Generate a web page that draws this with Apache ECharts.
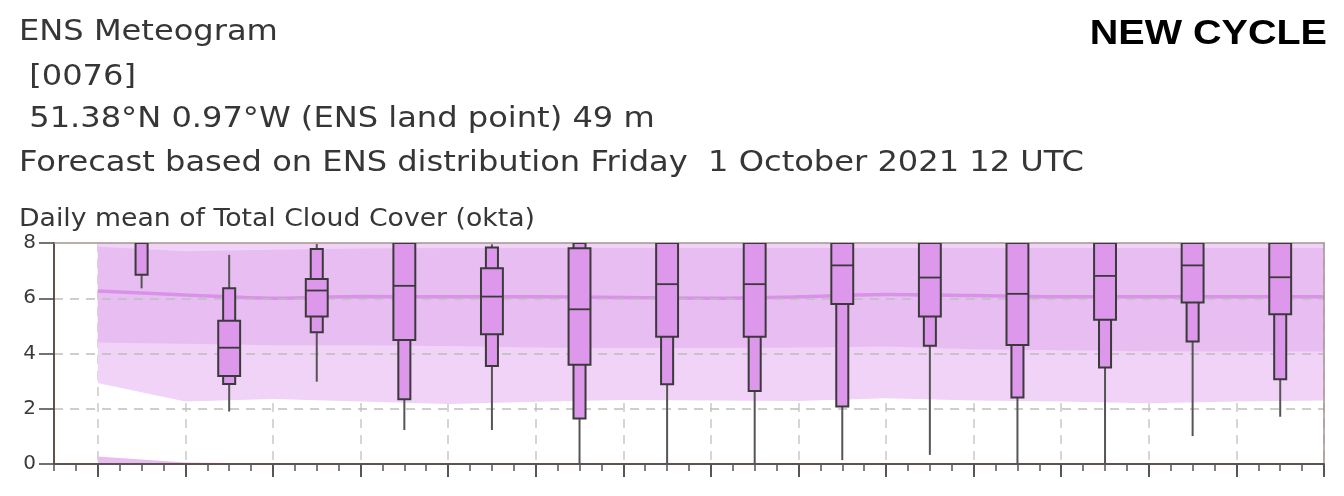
<!DOCTYPE html>
<html><head><meta charset="utf-8">
<script src="https://cdn.jsdelivr.net/npm/echarts@6/dist/echarts.min.js"></script>
<style>html,body{margin:0;padding:0;background:#fff}#c{width:1344px;height:496px}</style>
</head><body><div id="c"></div>
<script>
// ---- Data (hours since forecast base: Fri 1 Oct 2021 12 UTC) ----
const axisStartHour = 0;
const axisEndHour = 348;
// climate distribution sampled at 00 UTC of each day (2 Oct ... 16 Oct)
const climHours = [12, 36, 60, 84, 108, 132, 156, 180, 204, 228, 252, 276, 300, 324, 348];
const climLow   = [0.27, 0.05, 0.02, 0.02, 0.02, 0.02, 0.02, 0.02, 0.02, 0.02, 0.02, 0.02, 0.02, 0.02, 0.02];
const clim10    = [2.93, 2.26, 2.35, 2.26, 2.17, 2.25, 2.32, 2.30, 2.28, 2.38, 2.30, 2.26, 2.20, 2.26, 2.30];
const clim25    = [4.40, 4.35, 4.30, 4.30, 4.27, 4.22, 4.20, 4.20, 4.22, 4.25, 4.15, 4.12, 4.08, 4.07, 4.07];
const clim50    = [6.26, 6.12, 6.00, 6.06, 6.05, 6.05, 6.03, 6.00, 6.05, 6.14, 6.10, 6.05, 6.05, 6.05, 6.05];
const clim75    = [7.86, 7.70, 7.76, 7.80, 7.82, 7.82, 7.82, 7.82, 7.82, 7.82, 7.82, 7.82, 7.82, 7.82, 7.82];
const clim90    = [8, 8, 8, 8, 8, 8, 8, 8, 8, 8, 8, 8, 8, 8, 8];

// ENS daily boxes at 12 UTC (2 Oct ... 15 Oct)
const boxHours = [24, 48, 72, 96, 120, 144, 168, 192, 216, 240, 264, 288, 312, 336];
const boxMin = [6.36, 1.90, 2.98, 1.23, 1.23, 0.00, 0.00, 0.00, 0.14, 0.33, 0.00, 0.00, 1.01, 1.71];
const box10  = [6.85, 2.90, 4.77, 2.34, 3.55, 1.65, 2.89, 2.64, 2.08, 4.28, 2.41, 3.49, 4.43, 3.07];
const box25  = [8.00, 3.19, 5.34, 4.49, 4.70, 3.59, 4.61, 4.61, 5.79, 5.34, 4.31, 5.22, 5.85, 5.42];
const box50  = [8.00, 4.21, 6.28, 6.45, 6.06, 5.60, 6.51, 6.51, 7.19, 6.75, 6.16, 6.81, 7.19, 6.76];
const box75  = [8.00, 5.19, 6.70, 8.00, 7.09, 7.81, 8.00, 8.00, 8.00, 8.00, 8.00, 8.00, 8.00, 8.00];
const box90  = [8.00, 6.36, 7.78, 8.00, 7.84, 8.00, 8.00, 8.00, 8.00, 8.00, 8.00, 8.00, 8.00, 8.00];
const boxMax = [8.00, 7.57, 7.96, 8.00, 7.95, 8.00, 8.00, 8.00, 8.00, 8.00, 8.00, 8.00, 8.00, 8.00];

const yTicks = [0, 2, 4, 6, 8];

// 6-hourly tick labels along the time axis
const tickLabels = [];
for (let h = axisStartHour; h <= axisEndHour; h += 6) {
  const d = new Date(Date.UTC(2021, 9, 1, 12 + h));
  tickLabels.push(d.getUTCDate() + ' Oct ' + String(d.getUTCHours()).padStart(2, '0') + 'UTC');
}
const isMidnight = (idx, val) => /00UTC$/.test(tickLabels[idx]);

const titleLines = [
  'ENS Meteogram',
  ' [0076]',
  ' 51.38°N 0.97°W (ENS land point) 49 m',
  'Forecast based on ENS distribution Friday  1 October 2021 12 UTC'
];
const panelTitle = 'Daily mean of Total Cloud Cover (okta)';
const cycleLabel = 'NEW CYCLE';

// ---- Chart ----
const chart = echarts.init(document.getElementById('c'), null, {renderer: 'canvas'});

function band(api, lo, hi) {
  const pts = [];
  for (let i = 0; i < climHours.length; i++) pts.push(api.coord([climHours[i], hi[i]]));
  for (let i = climHours.length - 1; i >= 0; i--) pts.push(api.coord([climHours[i], lo[i]]));
  return pts;
}
const zeroLine = climHours.map(() => 0);

const titleFont = 'DejaVu Sans';
const graphics = [];
const baselines = [42.3, 87.5, 129.5, 173.3];
titleLines.forEach((t, i) => {
  graphics.push({
    type: 'text', x: 19, y: baselines[i] - 0.346 * 29, scaleX: 1.107, silent: true,
    style: {text: t, font: '29px "DejaVu Sans"', fill: '#363636', textAlign: 'left', textVerticalAlign: 'middle'}
  });
});
graphics.push({
  type: 'text', x: 19, y: 228.3 - 0.346 * 24, scaleX: 1.112, silent: true,
  style: {text: panelTitle, font: '24px "DejaVu Sans"', fill: '#363636', textAlign: 'left', textVerticalAlign: 'middle'}
});
graphics.push({
  type: 'text', x: 1327, y: 46.7 - 0.347 * 35, scaleX: 1.13, silent: true,
  style: {text: cycleLabel, font: 'bold 35px "Liberation Sans"', fill: '#000', textAlign: 'right', textVerticalAlign: 'middle'}
});

const option = {
  animation: false,
  backgroundColor: '#fff',
  graphic: graphics,
  grid: {left: 54, right: 20, top: 243, bottom: 32, containLabel: false},
  xAxis: [
    {
      type: 'value', min: axisStartHour, max: axisEndHour, interval: 6, position: 'bottom', z: 4,
      axisLine: {show: true, onZero: false, lineStyle: {color: '#5e524a', width: 2}},
      axisTick: {show: true, length: 7, lineStyle: {color: '#555', width: 1.5}},
      axisLabel: {show: false}, splitLine: {show: false}
    },
    {
      type: 'category', data: tickLabels, boundaryGap: false, position: 'bottom', z: 0,
      axisLine: {show: false},
      axisTick: {show: true, interval: isMidnight, length: 13, lineStyle: {color: '#555', width: 2}},
      axisLabel: {show: false},
      splitLine: {show: true, interval: isMidnight, lineStyle: {color: '#c9c9c9', type: [9, 7], width: 1.5}}
    },
    {
      type: 'value', min: axisStartHour, max: axisEndHour, position: 'top', z: 4,
      axisLine: {show: true, onZero: false, lineStyle: {color: '#a39590', width: 1.5}},
      axisTick: {show: false}, axisLabel: {show: false}, splitLine: {show: false}
    }
  ],
  yAxis: [
    {
      type: 'value', min: yTicks[0], max: yTicks[yTicks.length - 1], interval: 2, z: 4,
      axisLine: {show: true, onZero: false, lineStyle: {color: '#5e524a', width: 2}},
      axisTick: {show: true, length: 15, lineStyle: {color: '#444', width: 1.5}},
      axisLabel: {color: '#3a3a3a', fontSize: 20, margin: 18, fontFamily: titleFont},
      splitLine: {show: true, showMinLine: false, showMaxLine: false, lineStyle: {color: '#bdbdbd', type: [9, 7], width: 1.5}}
    },
    {
      type: 'value', min: yTicks[0], max: yTicks[yTicks.length - 1], position: 'right', z: 4,
      axisLine: {show: true, onZero: false, lineStyle: {color: '#a39590', width: 1.5}},
      axisTick: {show: false}, axisLabel: {show: false}, splitLine: {show: false}
    }
  ],
  series: [
    {
      type: 'custom', name: 'climate', xAxisIndex: 0, yAxisIndex: 0, z: 1, silent: true, clip: true,
      data: climHours.map((h, i) => [h, clim50[i]]),
      encode: {x: 0, y: 1},
      renderItem: function (params, api) {
        if (params.dataIndex !== 0) return null;
        return {
          type: 'group',
          children: [
            {type: 'polygon', shape: {points: band(api, clim10, clim90)}, style: {fill: '#f0d3f6'}},
            {type: 'polygon', shape: {points: band(api, clim25, clim75)}, style: {fill: '#e8bdf1'}},
            {type: 'polygon', shape: {points: band(api, zeroLine, climLow)}, style: {fill: '#e8bef2'}}
          ]
        };
      }
    },
    {
      type: 'line', name: 'median', xAxisIndex: 0, yAxisIndex: 0, z: 2, silent: true,
      data: climHours.map((h, i) => [h, clim50[i]]),
      smooth: 0.3, showSymbol: false, symbol: 'none',
      lineStyle: {color: '#da92e9', width: 3.5}
    },
    {
      type: 'custom', name: 'ens', xAxisIndex: 0, yAxisIndex: 0, z: 5, silent: true, clip: true,
      data: boxHours.map((h, i) => [h, boxMin[i], box10[i], box25[i], box50[i], box75[i], box90[i], boxMax[i]]),
      encode: {x: 0, y: [1, 7]},
      renderItem: function (params, api) {
        const x = api.value(0);
        const p = [1, 2, 3, 4, 5, 6, 7].map(k => api.coord([x, api.value(k)]));
        const cx = p[0][0];
        const wWide = api.size([6, 0])[0];
        const wNarrow = wWide * 0.55;
        const stroke = '#3a3a3a', fill = '#dd98ec';
        const ch = [];
        ch.push({type: 'line', shape: {x1: cx, y1: p[0][1], x2: cx, y2: p[6][1]}, style: {stroke: '#555', lineWidth: 2}});
        if (p[1][1] - p[5][1] > 0.5) {
          ch.push({type: 'rect', shape: {x: cx - wNarrow / 2, y: p[5][1], width: wNarrow, height: p[1][1] - p[5][1]},
                   style: {fill: fill, stroke: stroke, lineWidth: 2}});
        }
        if (p[2][1] - p[4][1] > 0.5) {
          ch.push({type: 'rect', shape: {x: cx - wWide / 2, y: p[4][1], width: wWide, height: p[2][1] - p[4][1]},
                   style: {fill: fill, stroke: stroke, lineWidth: 2}});
          ch.push({type: 'line', shape: {x1: cx - wWide / 2, y1: p[3][1], x2: cx + wWide / 2, y2: p[3][1]},
                   style: {stroke: stroke, lineWidth: 1.8}});
        }
        return {type: 'group', children: ch};
      }
    }
  ]
};
chart.setOption(option);
</script>
</body></html>
